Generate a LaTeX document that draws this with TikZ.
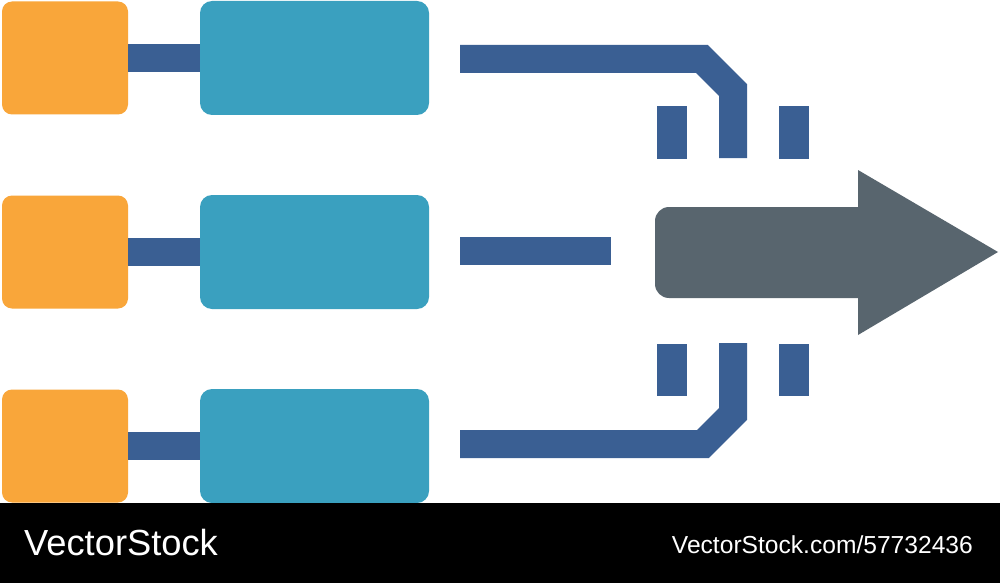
\documentclass[tikz,border=0pt]{standalone}
\usepackage{fontspec}
\setmainfont{Liberation Sans}
\usepackage{xcolor}
\usepackage{tikz}
\usetikzlibrary{calc}
\definecolor{bg}{HTML}{FFFFFF}
\definecolor{band}{HTML}{000000}
\definecolor{orng}{HTML}{F9A63A}
\definecolor{teal}{HTML}{3AA0BF}
\definecolor{navy}{HTML}{3A5F93}
\definecolor{slate}{HTML}{58656E}
\tikzset{
  srcbox/.style={fill=orng, rounded corners=10pt, minimum width=126pt, minimum height=113pt, inner sep=0pt},
  procbox/.style={fill=teal, rounded corners=12pt, minimum width=229pt, minimum height=114pt, inner sep=0pt},
  pipe/.style={draw=navy, line width=28pt, line cap=butt},
  gate/.style={fill=navy, minimum width=30pt, minimum height=52pt, inner sep=0pt},
  flow/.style={fill=slate},
  credit/.style={text=white, inner sep=0pt},
}

\begin{document}
\begin{tikzpicture}[x=1pt,y=-1pt]
  \useasboundingbox (0,0) rectangle (1000,583);
  \fill[bg] (0,0) rectangle (1000,503);
  \foreach \i/\y in {1/58,2/252,3/446}{
    \node[srcbox] (src\i) at (65,\y) {};
    \node[procbox] (proc\i) at (314.5,\y) {};
    \draw[pipe] (src\i.east) -- (proc\i.west);
  }
  \coordinate (in1) at (460,59);
  \coordinate (in2) at (460,251);
  \coordinate (in3) at (460,444);
  \coordinate (out1) at (733,158);
  \coordinate (out2) at (611,251);
  \coordinate (out3) at (733,343);
  \draw[pipe] (in1) -- (702,59) -- (733,90) -- (out1);
  \draw[pipe] (in2) -- (out2);
  \draw[pipe] (in3) -- (703,444) -- (733,414) -- (out3);
  \node[gate] (gtl) at (672,132.5) {};
  \node[gate] (gtr) at (794,132.5) {};
  \node[gate] (gbl) at (672,370) {};
  \node[gate] (gbr) at (794,370) {};
  % merged output
  \fill[flow, rounded corners=14pt] (880,207) -- (655,207) -- (655,298) -- (880,298) -- cycle;
  \fill[flow] (858,170) -- (998,252) -- (858,335) -- cycle;
  \fill[band] (0,503) rectangle (1000,583);
  \node[credit, anchor=base west, font=\fontsize{36.3}{40}\selectfont] (logo) at (24,555) {VectorStock};
  \node[credit, anchor=base east, font=\fontsize{24.6}{28}\selectfont] (ref) at (973,553) {VectorStock.com/57732436};
\end{tikzpicture}
\end{document}
